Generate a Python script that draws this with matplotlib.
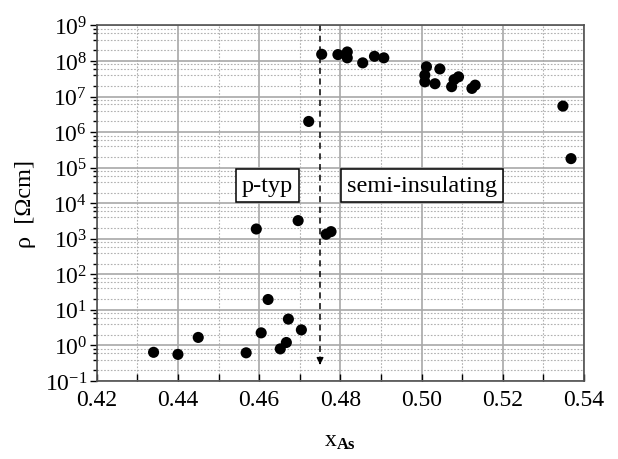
import matplotlib
matplotlib.use("Agg")
import matplotlib.pyplot as plt
from matplotlib.ticker import LogLocator, LogFormatterMathtext, MultipleLocator, NullFormatter

plt.rcParams['font.family'] = ['Liberation Serif', 'DejaVu Serif']
plt.rcParams['mathtext.fontset'] = 'custom'
plt.rcParams['mathtext.rm'] = 'Liberation Serif'
plt.rcParams['mathtext.it'] = 'Liberation Serif:italic'
plt.rcParams['mathtext.bf'] = 'Liberation Serif:bold'
plt.rcParams['axes.unicode_minus'] = False

# data: As fraction x_As and resistivity rho (Ohm cm)
x_as = [0.4340, 0.4400, 0.4450, 0.4568, 0.4605, 0.4622, 0.4652, 0.4667, 0.4672, 0.4704,
        0.4593, 0.4696, 0.4765, 0.4777,
        0.4722,
        0.4754, 0.4794, 0.4817, 0.4817, 0.4855, 0.4884, 0.4907,
        0.5012, 0.5045, 0.5008, 0.5008, 0.5033, 0.5091, 0.5074, 0.5080, 0.5124, 0.5132,
        0.5348, 0.5368]
rho = [0.64, 0.56, 1.68, 0.62, 2.26, 19.6, 0.80, 1.21, 5.5, 2.74,
       1885, 3245, 1340, 1590,
       2.0e6,
       1.55e8, 1.52e8, 1.8e8, 1.23e8, 8.9e7, 1.36e8, 1.23e8,
       6.9e7, 6.0e7, 4.0e7, 2.6e7, 2.3e7, 3.6e7, 1.9e7, 3.0e7, 1.7e7, 2.1e7,
       5.4e6, 1.8e5]

boundary_x = 0.475
region_labels = ["p-typ", "semi-insulating"]
region_x = [0.4620, 0.5001]
region_y = 3.1e4

fig = plt.figure(figsize=(6.18, 4.60), dpi=100)
ax = fig.add_axes([0.1565, 0.1696, 0.7885, 0.7728])

ax.set_yscale('log')
ax.set_xlim(0.42, 0.54)
ax.set_ylim(1e-1, 1e9)

ax.xaxis.set_major_locator(MultipleLocator(0.02))
ax.xaxis.set_minor_locator(MultipleLocator(0.01))
ax.yaxis.set_major_locator(LogLocator(base=10, numticks=20))
ax.yaxis.set_minor_locator(LogLocator(base=10, subs=(2, 4, 6, 8), numticks=20))
ax.yaxis.set_major_formatter(LogFormatterMathtext())
ax.yaxis.set_minor_formatter(NullFormatter())
ax.xaxis.set_major_formatter(matplotlib.ticker.FuncFormatter(lambda v, p: f"{v:.2f}"))

ax.grid(True, which='major', color='#a8a8a8', lw=1.2, ls='-')
ax.grid(True, which='minor', color='#b0b0b0', lw=0.8, ls=(0, (1.5, 1.5)))
ax.set_axisbelow(True)

ax.tick_params(axis='x', which='both', direction='in', length=5, width=1, labelsize=17, pad=6)
ax.tick_params(axis='y', which='major', direction='out', length=5, width=1, labelsize=17, pad=2)
ax.tick_params(axis='y', which='minor', direction='out', length=3, width=1)
for sp in ax.spines.values():
    sp.set_color('#505050')
    sp.set_linewidth(1.2)

ax.scatter(x_as, rho, s=64, color='black', zorder=3, edgecolors='none')

ax.plot([boundary_x, boundary_x], [1e9, 0.32], color='black', lw=1.1, ls=(0, (4, 3)), zorder=2)
ax.annotate('', xy=(boundary_x, 0.24), xytext=(boundary_x, 0.4),
            arrowprops=dict(arrowstyle='-|>', color='black', lw=1, mutation_scale=10))

for lab, xx in zip(region_labels, region_x):
    ax.text(xx, region_y, lab, fontsize=17.5, ha='center', va='center', zorder=4,
            bbox=dict(boxstyle='square,pad=0.25', fc='white', ec='black', lw=1.1))

ax.set_xlabel(r'$\mathrm{x}_{\mathbf{As}}$', fontsize=17, labelpad=14)
ax.set_ylabel('ρ  [Ωcm]', fontsize=17.5, labelpad=6)

fig.savefig('out.png', dpi=100)
